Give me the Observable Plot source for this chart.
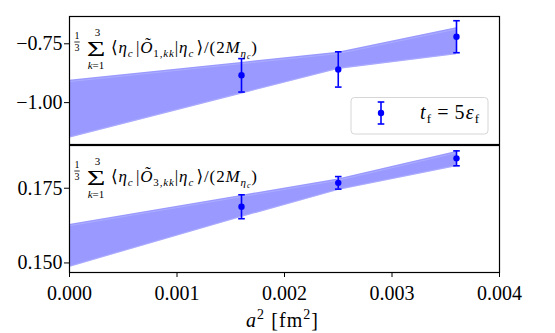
<!DOCTYPE html>
<html>
<head>
<meta charset="utf-8">
<script src="https://cdn.jsdelivr.net/npm/d3@7"></script>
<script src="https://cdn.jsdelivr.net/npm/@observablehq/plot@0.6"></script>
<style>
  body { margin: 0; background: white; }
  #wrap { position: relative; width: 555px; height: 333px; }
  #wrap svg { position: absolute; left: 0; background: transparent; overflow: visible; }
  #wrap svg text { font-family: "Liberation Serif", "Times New Roman", Times, "DejaVu Serif", "Noto Serif", serif !important; }
</style>
</head>
<body>
<div id="wrap"></div>
<script>
// ---- data ----
const a2 = [0.0016, 0.0025, 0.0036];
const o1 = [-0.884, -0.859, -0.720];
const o1Err = [0.071, 0.075, 0.068];
const o3 = [0.1688, 0.1768, 0.1850];
const o3Err = [0.0040, 0.0021, 0.0025];

const bandX = [0, 0.0016, 0.0025, 0.0036];
const o1Lo = [-1.151, -0.964, -0.859, -0.797];
const o1Hi = [-0.905, -0.829, -0.786, -0.682];
const o3Lo = [0.1485, 0.1652, 0.1742, 0.1822];
const o3Hi = [0.1629, 0.1726, 0.1781, 0.1873];

const xTicks = [0, 0.001, 0.002, 0.003, 0.004];
const o1Ticks = [-1.00, -0.75];
const o3Ticks = [0.150, 0.175];

const pts1 = a2.map((x, i) => ({x, y: o1[i], lo: o1[i] - o1Err[i], hi: o1[i] + o1Err[i]}));
const pts3 = a2.map((x, i) => ({x, y: o3[i], lo: o3[i] - o3Err[i], hi: o3[i] + o3Err[i]}));
const band1 = bandX.map((x, i) => ({x, lo: o1Lo[i], hi: o1Hi[i]}));
const band3 = bandX.map((x, i) => ({x, lo: o3Lo[i], hi: o3Hi[i]}));

const BLUE = "#0000ff";
const BAND = "#9999ff";
const FONT = '"Liberation Serif", "Times New Roman", Times, "DejaVu Serif", serif';

const cap = {draw(ctx) { ctx.moveTo(-3.3, 0); ctx.lineTo(3.3, 0); }};

function bandMarks(band) {
  return [
    Plot.areaY(band, {x: "x", y1: "lo", y2: "hi", fill: BAND, curve: "linear"}),
    Plot.lineY(band, {x: "x", y: "hi", stroke: "white", strokeOpacity: 0.3, strokeWidth: 0.6, dy: 1.3}),
    Plot.lineY(band, {x: "x", y: "lo", stroke: "white", strokeOpacity: 0.3, strokeWidth: 0.6, dy: -1.3})
  ];
}

function errMarks(pts) {
  return [
    Plot.ruleX(pts, {x: "x", y1: "lo", y2: "hi", stroke: BLUE, strokeWidth: 1.6}),
    Plot.dot(pts, {x: "x", y: "lo", symbol: cap, stroke: BLUE, strokeWidth: 1.6, fill: "none"}),
    Plot.dot(pts, {x: "x", y: "hi", symbol: cap, stroke: BLUE, strokeWidth: 1.6, fill: "none"}),
    Plot.dot(pts, {x: "x", y: "y", r: 3.2, fill: BLUE, stroke: "none"})
  ];
}

const common = {
  width: 555,
  marginLeft: 69,
  marginRight: 56,
  style: {fontFamily: FONT, fontSize: "20px", color: "black", background: "transparent", overflow: "visible"}
};

const topPlot = Plot.plot({
  ...common,
  height: 145,
  marginTop: 16,
  marginBottom: 1,
  x: {domain: [0, 0.004], axis: null},
  y: {domain: [-1.178, -0.634]},
  marks: [
    ...bandMarks(band1),
    ...errMarks(pts1),
    Plot.axisY({ticks: o1Ticks, tickFormat: d3.format(".2f"), tickSize: 5, tickPadding: 2, fontSize: 20, label: null}),
    Plot.frame({stroke: "black", strokeWidth: 1.2})
  ]
});

const bottomPlot = Plot.plot({
  ...common,
  height: 189,
  marginTop: 1,
  marginBottom: 61,
  x: {domain: [0, 0.004]},
  y: {domain: [0.1468, 0.1893]},
  marks: [
    ...bandMarks(band3),
    ...errMarks(pts3),
    Plot.axisY({ticks: o3Ticks, tickFormat: d3.format(".3f"), tickSize: 5, tickPadding: 2, fontSize: 20, label: null}),
    Plot.axisX({ticks: xTicks, tickFormat: d3.format(".3f"), tickSize: 5, tickPadding: 8, fontSize: 20, label: null}),
    Plot.frame({stroke: "black", strokeWidth: 1.2})
  ]
});

const wrap = document.getElementById("wrap");
topPlot.style.top = "0px";
bottomPlot.style.top = "144px";
wrap.appendChild(bottomPlot);
wrap.appendChild(topPlot);

// ---- panel annotation (sum formula) ----
function annotate(svg, y0, idx) {
  const g = d3.select(svg).append("g").attr("font-family", FONT).attr("fill", "black").attr("text-anchor", "start");
  g.append("text").attr("x", 77).attr("y", y0 + 23.3).attr("font-size", 10).attr("text-anchor", "middle").text("1");
  g.append("line").attr("x1", 74.3).attr("x2", 79.7).attr("y1", y0 + 26).attr("y2", y0 + 26).attr("stroke", "black").attr("stroke-width", 0.8);
  g.append("text").attr("x", 77).attr("y", y0 + 34.7).attr("font-size", 10).attr("text-anchor", "middle").text("3");
  g.append("text").attr("x", 0).attr("y", 0).attr("font-size", 20).attr("text-anchor", "middle")
    .attr("transform", `translate(96,${y0 + 40}) scale(1.6,1.0)`).text("Σ");
  g.append("text").attr("x", 97.5).attr("y", y0 + 19.5).attr("font-size", 11).attr("text-anchor", "middle").text("3");
  const kt = g.append("text").attr("x", 96).attr("y", y0 + 53.3).attr("font-size", 11).attr("text-anchor", "middle");
  kt.append("tspan").attr("font-style", "italic").text("k");
  kt.append("tspan").text("=1");
  const t = g.append("text").attr("x", 111).attr("y", y0 + 37.3).attr("font-size", 17).attr("text-anchor", "start")
    .attr("textLength", 146).attr("lengthAdjust", "spacing");
  const sub = (s, italic) => {
    t.append("tspan").attr("dy", 3.5).attr("font-size", 11).attr("font-style", italic ? "italic" : "normal").text(s);
    t.append("tspan").attr("dy", -3.5).text("\u200a");
  };
  t.append("tspan").text("⟨");
  t.append("tspan").attr("font-style", "italic").text("η");
  sub("c", true);
  t.append("tspan").text("|");
  t.append("tspan").attr("font-style", "italic").text("Õ");
  t.append("tspan").attr("dy", 3.5).attr("font-size", 11).text(idx + ",");
  t.append("tspan").attr("font-size", 11).attr("font-style", "italic").text("kk");
  t.append("tspan").attr("dy", -3.5).text("|");
  t.append("tspan").attr("font-style", "italic").text("η");
  sub("c", true);
  t.append("tspan").text("⟩/(2");
  t.append("tspan").attr("font-style", "italic").text("M");
  t.append("tspan").attr("dy", 4).attr("font-size", 11).attr("font-style", "italic").text("η");
  t.append("tspan").attr("dy", 2).attr("font-size", 8).attr("font-style", "italic").text("c");
  t.append("tspan").attr("dy", -6).text(")");
}
annotate(topPlot, 16, 1);
annotate(bottomPlot, 1, 3);

// ---- legend ----
(function legend() {
  const g = d3.select(topPlot).append("g").attr("text-anchor", "start");
  g.append("rect").attr("x", 351).attr("y", 97.5).attr("width", 137).attr("height", 36.5).attr("rx", 3.5)
    .attr("fill", "white").attr("fill-opacity", 0.8).attr("stroke", "#d6d6d6").attr("stroke-width", 1);
  g.append("line").attr("x1", 381).attr("x2", 381).attr("y1", 102).attr("y2", 124).attr("stroke", BLUE).attr("stroke-width", 1.6);
  g.append("line").attr("x1", 377.7).attr("x2", 384.3).attr("y1", 102).attr("y2", 102).attr("stroke", BLUE).attr("stroke-width", 1.6);
  g.append("line").attr("x1", 377.7).attr("x2", 384.3).attr("y1", 124).attr("y2", 124).attr("stroke", BLUE).attr("stroke-width", 1.6);
  g.append("circle").attr("cx", 381).attr("cy", 113).attr("r", 3.2).attr("fill", BLUE);
  const t = g.append("text").attr("x", 420).attr("y", 119).attr("font-family", FONT).attr("font-size", 20).attr("fill", "black")
    .attr("text-anchor", "start").attr("textLength", 59).attr("lengthAdjust", "spacing");
  t.append("tspan").attr("font-style", "italic").text("t");
  t.append("tspan").attr("dy", 3.5).attr("font-size", 13).text("f");
  t.append("tspan").attr("dy", -3.5).text("\u2009=\u20095");
  t.append("tspan").attr("font-style", "italic").text("ε");
  t.append("tspan").attr("dy", 3.5).attr("font-size", 13).text("f");
})();

// ---- x label ----
(function xlabel() {
  const t = d3.select(bottomPlot).append("text").attr("x", 246).attr("y", 183).attr("text-anchor", "start")
    .attr("font-family", FONT).attr("font-size", 20).attr("fill", "black")
    .attr("textLength", 72).attr("lengthAdjust", "spacing");
  t.append("tspan").attr("font-style", "italic").text("a");
  t.append("tspan").attr("dy", -8).attr("font-size", 14).text("2");
  t.append("tspan").attr("dy", 8).text(" [fm");
  t.append("tspan").attr("dy", -8).attr("font-size", 14).text("2");
  t.append("tspan").attr("dy", 8).text("]");
})();
</script>
</body>
</html>
